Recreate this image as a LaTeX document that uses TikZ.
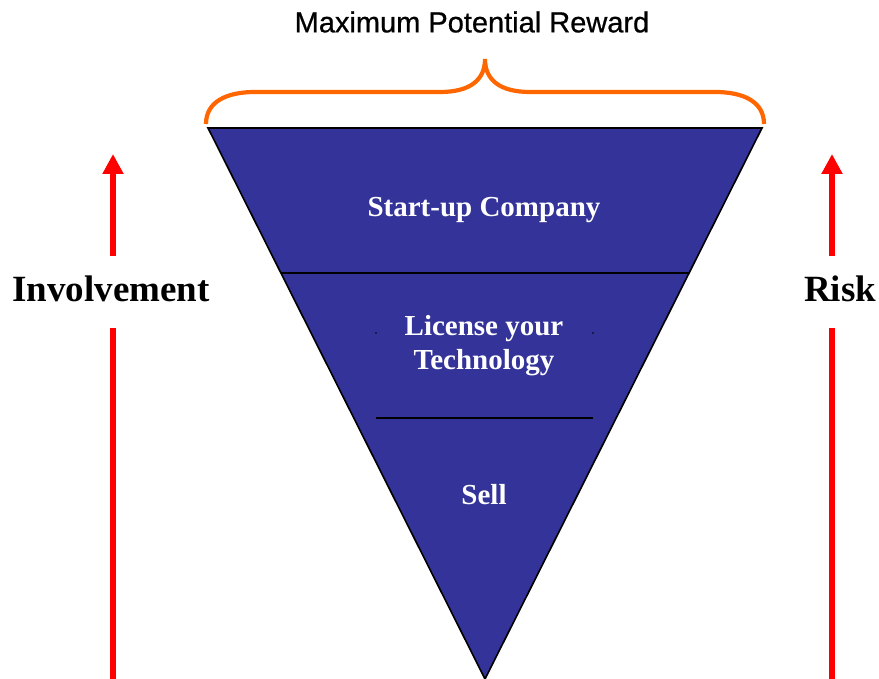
\documentclass[tikz,border=0pt]{standalone}
\usepackage{fontspec}
\setmainfont{Liberation Serif}
\newfontfamily\arialfont[BoldFont=Liberation Sans, BoldFeatures={FakeBold=0.7}]{Liberation Sans}
\usetikzlibrary{arrows.meta}
\definecolor{funnel}{HTML}{333399}
\definecolor{bracec}{HTML}{FF6600}
\definecolor{arrowred}{HTML}{FF0000}
\tikzset{
  funnelbox/.style={fill=funnel, draw=black, line width=1.6pt, line join=miter},
  divider/.style={draw=black, line width=1.6pt},
  bracestyle/.style={draw=bracec, line width=4.2pt},
  redshaft/.style={draw=arrowred, line width=6.5pt},
  redarrow/.style={redshaft, -{Triangle[width=20pt,length=20pt]}},
  innertext/.style={text=white, font=\fontsize{29}{34}\selectfont\bfseries, align=center},
  sidetext/.style={text=black, font=\fontsize{37}{40}\selectfont\bfseries},
  toptext/.style={text=black, font=\arialfont\bfseries\fontsize{29}{32}\selectfont}
}
\begin{document}
\begin{tikzpicture}[x=1pt,y=-1pt]
\useasboundingbox (0,0) rectangle (879,679);
% funnel
\coordinate (tl) at (208,128);
\coordinate (tr) at (762,128);
\coordinate (tip) at (485,679);
\draw[funnelbox] (tl) -- (tr) -- (tip) -- cycle;
\path (tl) -- (tip) coordinate[pos=0.2632] (d1l);
\path (tr) -- (tip) coordinate[pos=0.2632] (d1r);
\draw[divider] (d1l) -- (d1r);
\coordinate (d2l) at (376,418);
\coordinate (d2r) at (593,418);
\draw[divider] (d2l) -- (d2r);
\fill[black] (376,333) circle (0.8);
\fill[black] (593,333) circle (0.8);
% texts inside
\node[innertext] (start) at (484,210) {Start-up Company};
\node[innertext] (license) at (484,346) {License your\\Technology};
\node[innertext] (sell) at (484,495) {Sell};
% brace
\coordinate (bl) at (206,124);
\coordinate (br) at (764,124);
\coordinate (bpeak) at (485,59);
\draw[bracestyle] (bl) .. controls (206,102) and (226,92) .. (255,92) -- (440,92)
  .. controls (470,92) and (485,80) .. (bpeak)
  .. controls (485,80) and (500,92) .. (530,92) -- (715,92)
  .. controls (744,92) and (764,102) .. (br);
\node[toptext] (reward) at (472,22) {Maximum Potential Reward};
% left arrow
\coordinate (la1) at (113,256);
\coordinate (la2) at (113,154);
\coordinate (la3) at (113,328);
\coordinate (la4) at (113,682);
\draw[redarrow] (la1) -- (la2);
\draw[redshaft] (la3) -- (la4);
\node[sidetext] (inv) at (111,289) {Involvement};
% right arrow
\coordinate (ra1) at (832,256);
\coordinate (ra2) at (832,154);
\coordinate (ra3) at (832,328);
\coordinate (ra4) at (832,682);
\draw[redarrow] (ra1) -- (ra2);
\draw[redshaft] (ra3) -- (ra4);
\node[sidetext] (risk) at (840,289) {Risk};
\end{tikzpicture}
\end{document}
